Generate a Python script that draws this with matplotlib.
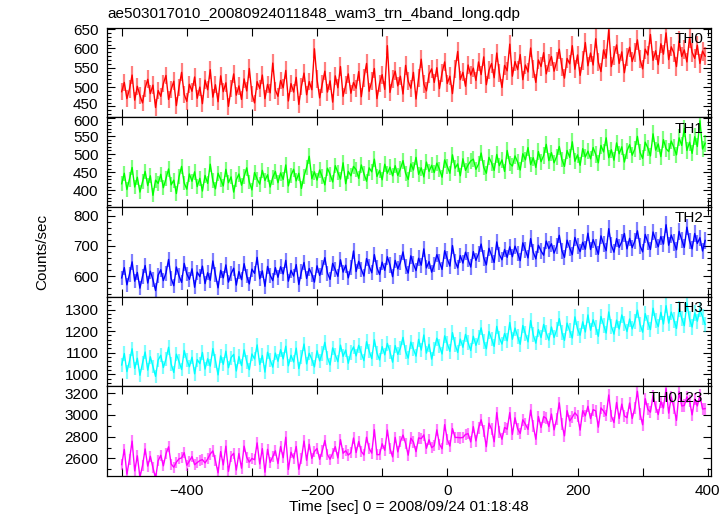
import numpy as np
import matplotlib
matplotlib.use("Agg")
import matplotlib.pyplot as plt
from matplotlib.ticker import MultipleLocator
from matplotlib.transforms import ScaledTranslation

plt.rcParams['font.family'] = ['Liberation Sans', 'DejaVu Sans']
plt.rcParams['font.size'] = 11

# light curve, 4 s bins starting at -500 s
t_start = -500
bin_sec = 4

th0 = [488, 512, 470, 495, 531, 466, 502, 478, 459, 497, 520, 483, 505, 447, 491,
       476, 509, 530, 468, 494, 515, 452, 499, 538, 481, 463, 507, 489, 526, 471,
       500, 457, 518, 493, 545, 474, 506, 462, 529, 488, 511, 450, 497, 534, 479,
       503, 468, 521, 490, 548, 482, 459, 514, 496, 531, 470, 507, 485, 562, 492,
       476, 517, 498, 543, 464, 509, 487, 525, 455, 502, 536, 480, 514, 493, 599,
       520, 472, 508, 541, 487, 516, 461, 529, 498, 553, 476, 505, 534, 484, 512,
       497, 540, 475, 523, 561, 489, 515, 548, 470, 509, 532, 494, 607, 486, 520,
       541, 503, 528, 482, 556, 515, 497, 538, 469, 524, 572, 508, 490, 533, 547,
       512, 550, 496, 537, 565, 509, 528, 483, 546, 592, 519, 538, 502, 557, 531,
       549, 517, 565, 532, 578, 506, 543, 561, 524, 588, 537, 499, 556, 542, 611,
       528, 566, 545, 584, 519, 557, 539, 601, 547, 512, 570, 553, 589, 534, 562,
       579, 541, 566, 598, 552, 523, 574, 560, 607, 546, 583, 530, 569, 615, 555,
       588, 557, 625, 564, 540, 596, 575, 648, 553, 582, 609, 561, 591, 537, 578,
       603, 566, 589, 622, 572, 547, 598, 583, 636, 569, 594, 558, 612, 585, 640,
       571, 604, 588, 553, 619, 579, 596, 565, 627, 590, 574, 608, 561, 593, 580]

th1 = [418, 447, 402, 431, 463, 409, 436, 395, 424, 452, 413, 440, 386, 428, 419,
       444, 407, 432, 459, 415, 428, 391, 437, 466, 420, 403, 445, 425, 451, 410,
       433, 398, 441, 419, 472, 426, 404, 447, 430, 412, 458, 421, 437, 395, 429,
       445, 414, 438, 462, 423, 401, 449, 431, 417, 455, 427, 443, 409, 436, 452,
       421, 448, 430, 470, 412, 441, 458, 426, 447, 405, 439, 463, 494, 432, 451,
       428, 456, 437, 415, 461, 444, 423, 468, 449, 431, 476, 418, 452, 440, 466,
       457, 433, 470, 446, 425, 462, 451, 486, 438, 455, 429, 472, 447, 464, 440,
       468, 441, 459, 482, 447, 430, 473, 456, 491, 444, 462, 437, 478, 452, 469,
       449, 475, 458, 436, 484, 466, 447, 498, 461, 473, 440, 487, 455, 470, 481,
       486, 458, 472, 503, 463, 447, 491, 476, 455, 499, 468, 484, 452, 510, 474,
       467, 495, 478, 456, 501, 484, 518, 471, 490, 463, 507, 479, 496, 527, 482,
       504, 476, 493, 521, 485, 466, 510, 491, 534, 480, 498, 469, 515, 492, 508,
       487, 518, 499, 476, 524, 506, 545, 490, 512, 483, 531, 501, 520, 478, 509,
       526, 497, 514, 549, 505, 488, 533, 517, 495, 556, 511, 528, 493, 540, 515,
       507, 536, 518, 498, 545, 524, 571, 510, 533, 502, 548, 521, 592, 514, 530]

th2 = [594, 628, 571, 606, 647, 583, 612, 560, 599, 635, 577, 616, 588, 552, 603,
       621, 585, 610, 655, 592, 568, 630, 601, 579, 642, 607, 589, 624, 563, 613,
       598, 633, 575, 611, 586, 650, 604, 561, 619, 594, 637, 580, 608, 626, 570,
       615, 588, 641, 600, 574, 623, 609, 662, 591, 617, 566, 632, 603, 585, 628,
       596, 631, 607, 652, 583, 619, 600, 638, 572, 614, 645, 592, 625, 606, 580,
       634, 602, 627, 661, 610, 589, 642, 621, 599, 654, 613, 636, 594, 628, 683,
       615, 649, 622, 600, 658, 633, 611, 671, 628, 605, 646, 619, 664, 637, 598,
       652, 624, 645, 680, 631, 610, 667, 640, 618, 659, 636, 690, 627, 648, 613,
       638, 671, 646, 622, 684, 657, 633, 701, 649, 627, 668, 643, 679, 655, 630,
       681, 652, 674, 706, 660, 637, 692, 669, 645, 713, 671, 654, 688, 662, 697,
       664, 699, 675, 651, 710, 686, 660, 724, 679, 657, 702, 683, 669, 716, 691,
       707, 676, 698, 735, 684, 662, 719, 693, 671, 728, 700, 681, 712, 689, 742,
       688, 721, 697, 672, 733, 706, 684, 757, 702, 679, 724, 695, 714, 741, 690,
       725, 694, 716, 750, 701, 680, 738, 712, 688, 746, 719, 697, 731, 706, 770,
       702, 736, 711, 687, 748, 720, 695, 762, 716, 690, 741, 708, 727, 683, 718]

th3 = [1043, 1096, 1012, 1061, 1118, 1027, 1074, 995, 1052, 1103, 1019, 1081, 1036, 990, 1066,
       1088, 1031, 1070, 1125, 1047, 1008, 1093, 1059, 1022, 1110, 1064, 1035, 1079, 1002, 1068,
       1049, 1101, 1024, 1072, 1038, 1119, 1063, 997, 1085, 1046, 1107, 1030, 1077, 1092, 1015,
       1082, 1040, 1113, 1058, 1021, 1094, 1071, 1136, 1045, 1087, 1010, 1102, 1066, 1033, 1098,
       1060, 1114, 1071, 1130, 1039, 1088, 1057, 1121, 1026, 1079, 1140, 1048, 1097, 1069, 1034,
       1109, 1062, 1096, 1148, 1077, 1043, 1122, 1090, 1058, 1135, 1083, 1112, 1051, 1101, 1127,
       1085, 1134, 1097, 1063, 1151, 1108, 1072, 1160, 1099, 1066, 1128, 1090, 1143, 1104, 1056,
       1133, 1092, 1121, 1171, 1104, 1075, 1149, 1117, 1084, 1162, 1112, 1182, 1098, 1139, 1070,
       1118, 1167, 1130, 1094, 1178, 1142, 1106, 1193, 1137, 1101, 1163, 1125, 1185, 1146, 1110,
       1176, 1134, 1170, 1215, 1152, 1118, 1198, 1163, 1129, 1222, 1168, 1140, 1189, 1155, 1240,
       1162, 1214, 1175, 1139, 1226, 1188, 1150, 1249, 1183, 1144, 1207, 1170, 1231, 1192, 1158,
       1219, 1170, 1206, 1258, 1194, 1157, 1237, 1201, 1168, 1266, 1210, 1181, 1243, 1196, 1275,
       1204, 1253, 1217, 1176, 1268, 1228, 1191, 1289, 1222, 1186, 1251, 1210, 1275, 1236, 1198,
       1256, 1210, 1245, 1297, 1232, 1195, 1281, 1240, 1207, 1306, 1249, 1221, 1287, 1233, 1318,
       1237, 1288, 1251, 1212, 1303, 1260, 1225, 1330, 1256, 1219, 1284, 1246, 1300, 1265, 1231]

# all four bands summed
th0123 = list(np.array(th0) + np.array(th1) + np.array(th2) + np.array(th3))

bands = ["TH0", "TH1", "TH2", "TH3", "TH0123"]
rates = [th0, th1, th2, th3, th0123]
colors = ["#ff0000", "#00ff00", "#0000ff", "#00ffff", "#ff00ff"]
ylims = [(422, 654), (354, 602), (532, 829), (944, 1360), (2438, 3264)]
ymajor = [50, 50, 100, 100, 200]
yminor = [10, 10, 20, 20, 100]

fig = plt.figure(figsize=(7.23, 5.16), dpi=100)

left, right = 0.1476, 0.9834
top, bottom = 0.9467, 0.0775
h = (top - bottom) / 5

axes = []
for k in range(5):
    ax = fig.add_axes([left, top - (k + 1) * h, right - left, h])
    y = np.array(rates[k], dtype=float)
    t = t_start + bin_sec * np.arange(len(y))
    err = np.sqrt(y)  # poisson, 1 s
    ax.errorbar(t, y, yerr=err, fmt='none', ecolor=colors[k], alpha=0.5,
                elinewidth=1.6, capsize=0)
    ax.plot(t, y, color=colors[k], lw=1.0)
    ax.set_xlim(-523, 405)
    ax.set_ylim(*ylims[k])
    ax.xaxis.set_major_locator(MultipleLocator(200))
    ax.xaxis.set_minor_locator(MultipleLocator(100))
    ax.yaxis.set_major_locator(MultipleLocator(ymajor[k]))
    ax.yaxis.set_minor_locator(MultipleLocator(yminor[k]))
    ax.tick_params(which='both', direction='in', top=True, right=True, width=0.8)
    ax.tick_params(which='major', length=6, labelsize=11, pad=6)
    ax.tick_params(which='minor', length=3)
    ax.tick_params(axis='x', which='minor', length=6)
    for s in ax.spines.values():
        s.set_linewidth(0.9)
    if k < 4:
        ax.tick_params(labelbottom=False)
    ax.text(0.987, 0.95, bands[k], transform=ax.transAxes, ha='right', va='top',
            fontsize=11)
    if k == 4:
        ax.set_xlabel("Time [sec] 0 = 2008/09/24 01:18:48", fontsize=11, labelpad=1)
    axes.append(ax)

# the lowest label of the top panel and the top label of the next one sit close
fig.canvas.draw()
for lab in axes[0].get_yticklabels():
    if lab.get_text() == "450":
        lab.set_transform(lab.get_transform() + ScaledTranslation(0, 2 / 72, fig.dpi_scale_trans))
for lab in axes[1].get_yticklabels():
    if lab.get_text() == "600":
        lab.set_transform(lab.get_transform() + ScaledTranslation(0, -2 / 72, fig.dpi_scale_trans))

fig.text(0.149, 0.965, "ae503017010_20080924011848_wam3_trn_4band_long.qdp",
         ha='left', va='baseline', fontsize=11)
fig.text(0.058, 0.512, "Counts/sec", rotation=90, ha='center', va='center',
         fontsize=11)

fig.savefig("out.png", dpi=100)
